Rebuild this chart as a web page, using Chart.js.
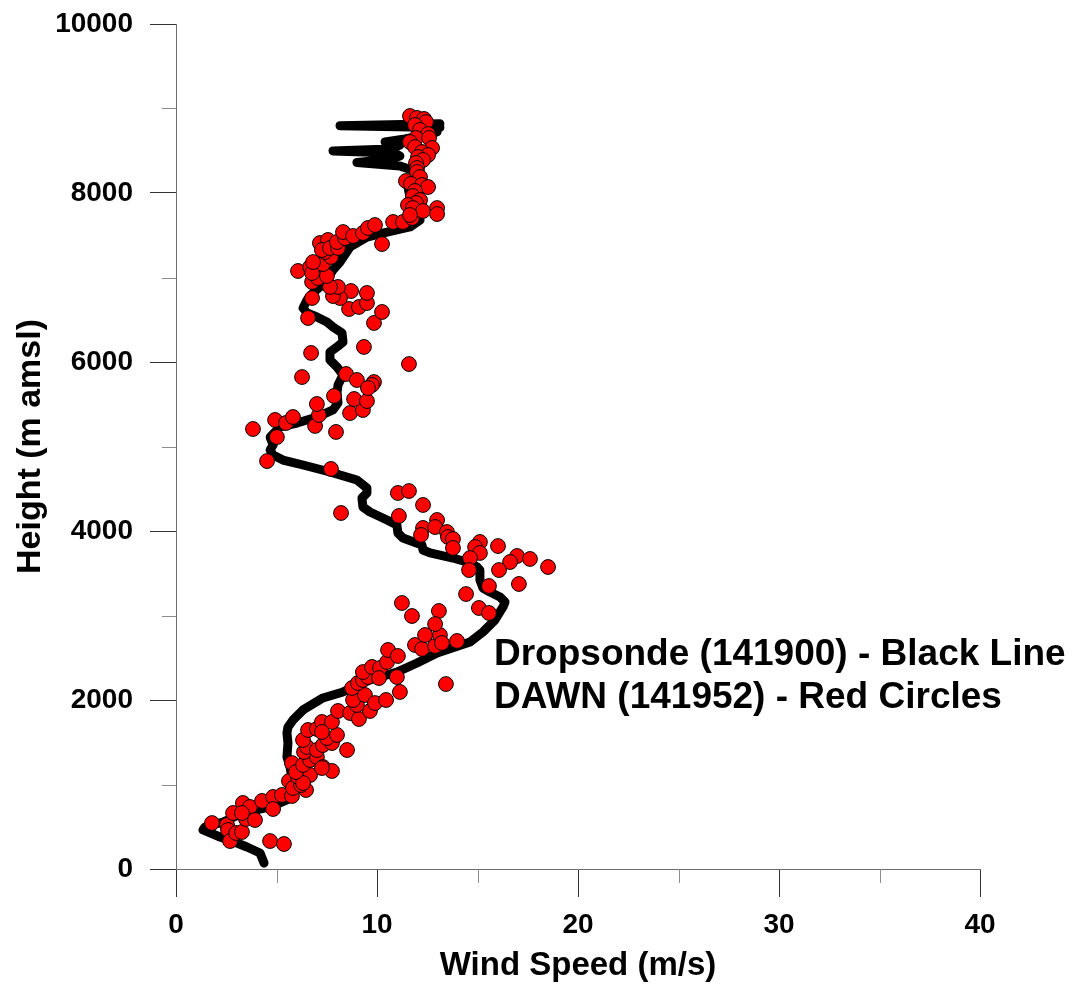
<!DOCTYPE html>
<html>
<head>
<meta charset="utf-8">
<script src="https://cdn.jsdelivr.net/npm/chart.js@4.4.1/dist/chart.umd.min.js"></script>
<style>
  html, body { margin: 0; padding: 0; background: #fff; }
  #profile { display: block; }
</style>
</head>
<body>
<canvas id="profile" width="1076" height="986"></canvas>
<script>
// Dropsonde (141900) - black line, bottom to top
const sondeSpeed = [4.38, 4.18, 3.53, 3.03, 2.19, 1.34, 1.44, 2.34, 3.33, 4.68,
  5.52, 5.82, 5.67, 5.52, 5.57, 5.52, 5.57, 5.82, 6.32, 7.31,
  8.31, 9.65, 10.99, 11.99, 12.99, 14.63, 15.27, 15.87, 16.27, 16.37,
  16.12, 15.62, 15.27, 15.12, 15.12, 14.98, 14.63, 13.78, 12.64, 12.29,
  12.24, 11.29, 11.04, 10.99, 10.50, 9.65, 9.30, 9.25, 9.50, 9.50,
  9.00, 7.66, 6.32, 5.32, 4.83, 4.68, 4.83, 4.68, 5.17, 6.02,
  7.01, 7.81, 8.06, 8.01, 8.06, 8.31, 8.01, 7.66, 7.66, 8.01,
  8.31, 8.26, 7.81, 7.51, 7.01, 6.52, 6.32, 6.52, 6.82, 7.16,
  7.51, 7.81, 8.16, 8.66, 9.50, 10.50, 11.64, 12.14, 11.99, 11.64,
  11.54, 11.99, 11.74, 11.14, 9.00, 10.65, 11.14, 10.90, 7.81, 10.65,
  11.14, 10.40, 11.39, 12.39, 12.99, 12.14, 13.13, 8.16, 13.13];
const sondeHeight = [71, 189, 260, 308, 379, 462, 497, 556, 663, 734,
  817, 1018, 1207, 1325, 1491, 1609, 1680, 1763, 1882, 2024,
  2095, 2237, 2331, 2438, 2556, 2686, 2805, 2947, 3101, 3160,
  3219, 3278, 3325, 3420, 3538, 3574, 3621, 3680, 3740, 3775,
  3834, 3917, 3976, 4071, 4130, 4225, 4284, 4391, 4450, 4509,
  4604, 4698, 4781, 4840, 4899, 4959, 5018, 5112, 5231, 5278,
  5349, 5432, 5515, 5633, 5728, 5846, 5941, 6024, 6118, 6178,
  6237, 6343, 6414, 6473, 6533, 6580, 6639, 6734, 6817, 6888,
  6970, 7089, 7183, 7361, 7479, 7538, 7598, 7680, 7834, 7953,
  8071, 8189, 8272, 8320, 8360, 8400, 8438, 8473, 8497, 8521,
  8568, 8604, 8639, 8686, 8722, 8757, 8775, 8795, 8820];

// DAWN (141952) - red circles
const dawnSpeed = [1.79, 2.54, 2.59, 2.69, 2.99, 3.28, 2.84, 3.33, 3.68, 3.48,
  3.93, 3.28, 4.28, 4.83, 4.83, 5.27, 5.77, 4.68, 5.37, 5.62,
  5.82, 6.47, 6.22, 6.07, 6.67, 6.32, 5.77, 5.97, 6.32, 6.67,
  7.01, 7.31, 7.76, 7.26, 6.37, 6.52, 6.32, 7.01, 7.31, 7.76,
  7.51, 8.01, 8.51, 6.57, 7.01, 7.26, 7.76, 7.26, 8.06, 8.66,
  9.10, 9.65, 9.00, 8.81, 9.40, 9.90, 10.45, 11.14, 8.76, 9.05,
  9.30, 9.55, 9.30, 9.75, 10.15, 10.10, 10.99, 10.50, 10.55, 11.04,
  11.89, 12.24, 12.89, 13.98, 13.43, 13.13, 13.23, 11.24, 11.74, 13.08,
  12.89, 12.39, 14.43, 15.07, 15.57, 15.57, 17.06, 15.12, 14.88, 15.12,
  14.63, 14.58, 16.02, 16.97, 16.62, 17.61, 18.51, 16.07, 11.04, 11.59,
  12.29, 11.09, 12.29, 12.19, 12.99, 12.89, 13.48, 13.53, 13.78, 13.78,
  4.53, 7.71, 8.21, 5.02, 3.83, 7.96, 4.93, 5.47, 5.82, 6.92,
  7.11, 7.01, 8.66, 9.30, 7.86, 8.86, 9.50, 6.27, 8.46, 9.00,
  9.85, 9.75, 9.55, 6.72, 9.35, 11.59, 6.57, 9.85, 10.25, 8.61,
  9.10, 9.50, 9.50, 8.71, 8.16, 7.81, 8.06, 7.66, 6.77, 6.77,
  7.06, 7.51, 6.07, 6.67, 6.77, 7.31, 6.82, 7.71, 7.41, 7.16,
  7.56, 7.26, 7.66, 8.06, 8.01, 8.41, 8.31, 8.81, 9.30, 9.55,
  9.90, 10.25, 10.80, 11.29, 11.74,
  11.64, 11.99, 12.34, 12.44, 11.89, 12.14, 12.54, 11.94, 12.59, 11.64,
  11.89, 12.74, 12.24, 12.54, 12.04, 12.29, 11.94, 11.99, 11.99, 12.14,
  11.44, 11.69, 12.24, 12.54, 11.89, 11.79, 12.14, 11.94, 11.54, 11.79,
  12.29, 11.64, 12.99, 12.99];
const dawnHeight = [544, 521, 462, 331, 426, 438, 663, 781, 734, 592,
  580, 663, 805, 852, 710, 876, 864, 331, 296, 1041,
  959, 935, 994, 1089, 1112, 1018, 1254, 1148, 1231, 1290,
  1325, 1207, 1160, 1195, 1385, 1444, 1527, 1408, 1467, 1491,
  1550, 1586, 1408, 1645, 1657, 1740, 1740, 1621, 1870, 1846,
  1775, 1870, 1941, 2000, 2059, 1964, 2000, 2095, 2142, 2201,
  2237, 2272, 2331, 2391, 2379, 2260, 2272, 2450, 2592, 2521,
  2651, 2604, 2639, 2698, 2189, 2769, 2675, 3148, 2994, 3053,
  2899, 2769, 3254, 3089, 3030, 3349, 3373, 3870, 3811, 3740,
  3680, 3538, 3822, 3704, 3633, 3669, 3574, 3538, 4450, 4473,
  4308, 4178, 4036, 3953, 4130, 4047, 3988, 3929, 3905, 3799,
  4828, 4734, 4213, 5112, 5207, 5172, 5314, 5278, 5349, 5243,
  5373, 5503, 5396, 5432, 5598, 5562, 5538, 5822, 5858, 5787,
  5763, 5728, 5692, 6107, 6178, 5976, 6521, 6462, 6592, 6627,
  6651, 6698, 6817, 6840, 6757, 6781, 6888, 6888, 6757, 6947,
  6994, 7018, 7077, 7124, 7053, 7160, 7183, 7243, 7302, 7408,
  7444, 7325, 7349, 7349, 7420, 7467, 7538, 7491, 7527, 7586,
  7621, 7396, 7657, 7657, 7704,
  8911, 8888, 8876, 8840, 8805, 8746, 8698, 8651, 8651, 8604,
  8544, 8533, 8485, 8450, 8426, 8391, 8355, 8296, 8249, 8189,
  8142, 8107, 8095, 8071, 8024, 7964, 7917, 7882, 7858, 7822,
  7787, 7740, 7822, 7751];

// minor tick values (unlabelled)
const speedMinor = [5, 15, 25, 35];
const heightMinor = [1000, 3000, 5000, 7000, 9000];

const legendLines = ['Dropsonde (141900) - Black Line', 'DAWN (141952) - Red Circles'];

const FONT = 'Arial, "Liberation Sans", Helvetica, sans-serif';

// short grey ticks between the labelled ones
const minorTicks = {
  id: 'minorTicks',
  afterDraw(chart) {
    const { ctx, scales: { x, y } } = chart;
    ctx.save();
    ctx.strokeStyle = '#8c8c8c';
    ctx.lineWidth = 1;
    speedMinor.forEach(v => {
      const px = Math.round(x.getPixelForValue(v)) + 0.5;
      ctx.beginPath();
      ctx.moveTo(px, y.bottom);
      ctx.lineTo(px, y.bottom + 14);
      ctx.stroke();
    });
    heightMinor.forEach(v => {
      const py = Math.round(y.getPixelForValue(v)) + 0.5;
      ctx.beginPath();
      ctx.moveTo(x.left, py);
      ctx.lineTo(x.left - 14, py);
      ctx.stroke();
    });
    ctx.restore();
  }
};

// the two text lines inside the plot
const legendText = {
  id: 'legendText',
  afterDraw(chart) {
    const { ctx, chartArea } = chart;
    ctx.save();
    ctx.fillStyle = '#000';
    ctx.font = 'bold 37px ' + FONT;
    ctx.textAlign = 'left';
    ctx.textBaseline = 'alphabetic';
    legendLines.forEach((t, i) => {
      ctx.fillText(t, chartArea.left + 318, chartArea.top + 641 + i * 43);
    });
    ctx.restore();
  }
};

const dataProfile = {
  datasets: [{
    label: 'DAWN (141952)',
    data: dawnSpeed.map((s, i) => ({ x: s, y: dawnHeight[i] })),
    backgroundColor: '#ff0000',
    borderColor: '#000',
    borderWidth: 1,
    pointRadius: 7.4,
    order: 0
  }, {
    label: 'Dropsonde (141900)',
    data: sondeSpeed.map((s, i) => ({ x: s, y: sondeHeight[i] })),
    showLine: true,
    borderColor: '#000',
    borderWidth: 9,
    borderCapStyle: 'round',
    borderJoinStyle: 'round',
    tension: 0,
    pointRadius: 0,
    order: 1
  }]
};

const configProfile = {
  type: 'scatter',
  data: dataProfile,
  options: {
    responsive: false,
    animation: false,
    layout: {
      padding: { left: 0, top: 24, right: 96, bottom: 0 }
    },
    plugins: {
      legend: { display: false },
      tooltip: { enabled: false }
    },
    scales: {
      x: {
        type: 'linear',
        min: 0,
        max: 40,
        afterFit: scale => {
          scale.height = 117;
          scale.paddingLeft = 0;
          scale.paddingRight = 0;
        },
        border: { color: '#6e6e6e', width: 1 },
        grid: {
          drawOnChartArea: false,
          tickLength: 28,
          tickColor: '#333'
        },
        ticks: {
          stepSize: 10,
          padding: 11,
          color: '#000',
          font: { family: FONT, size: 28, weight: 'bold' },
          callback: v => v
        },
        title: {
          display: true,
          text: 'Wind Speed (m/s)',
          color: '#000',
          padding: { top: 0, bottom: 0 },
          font: { family: FONT, size: 33, weight: 'bold' }
        }
      },
      y: {
        type: 'linear',
        min: 0,
        max: 10000,
        afterFit: scale => {
          scale.width = 176;
          scale.paddingTop = 0;
          scale.paddingBottom = 0;
        },
        border: { color: '#6e6e6e', width: 1 },
        grid: {
          drawOnChartArea: false,
          tickLength: 26,
          tickColor: '#333'
        },
        ticks: {
          stepSize: 2000,
          padding: 17,
          color: '#000',
          font: { family: FONT, size: 28, weight: 'bold' },
          callback: v => v
        },
        title: {
          display: true,
          text: 'Height (m amsl)',
          color: '#000',
          padding: { top: 10, bottom: 0 },
          font: { family: FONT, size: 34, weight: 'bold' }
        }
      }
    }
  },
  plugins: [minorTicks, legendText]
};

const profileChart = new Chart(
  document.getElementById('profile'),
  configProfile
);
</script>
</body>
</html>
